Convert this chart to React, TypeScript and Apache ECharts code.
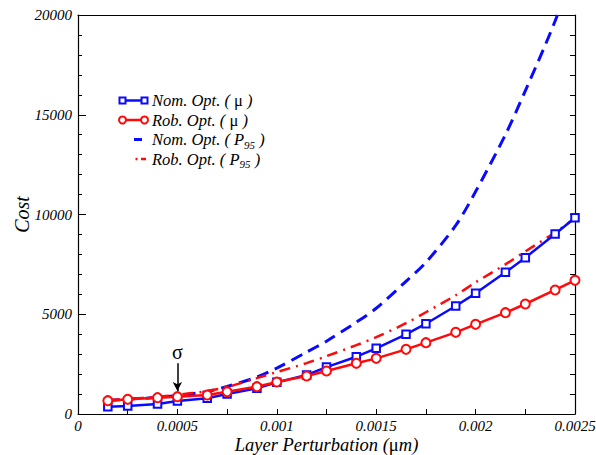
import React, { useEffect, useRef } from "react";
import * as echarts from "echarts";

const xValues = [0.00015, 0.00025, 0.0004, 0.0005, 0.00065, 0.00075, 0.0009, 0.001, 0.00115, 0.00125, 0.0014, 0.0015, 0.00165, 0.00175, 0.0019, 0.002, 0.00215, 0.00225, 0.0024, 0.0025];
const nomMean = [366, 401, 500, 650, 785, 1000, 1285, 1587, 1955, 2350, 2872, 3293, 3995, 4526, 5414, 6048, 7101, 7836, 9023, 9841];
const robMean = [668, 735, 819, 869, 952, 1119, 1370, 1604, 1905, 2155, 2540, 2790, 3241, 3575, 4094, 4495, 5079, 5514, 6216, 6700];
const nomP95 = [680, 740, 830, 930, 1130, 1380, 1850, 2300, 3100, 3650, 4600, 5300, 6650, 7600, 9450, 11150, 14000, 16200, 19700, 22600];
const robP95 = [700, 760, 860, 960, 1150, 1350, 1800, 2100, 2550, 2900, 3450, 3850, 4550, 5100, 5950, 6600, 7500, 8150, 9100, 9820];
const xTicks = ["0", "0.0005", "0.001", "0.0015", "0.002", "0.0025"];
const sigmaX = 0.0005;
const sigmaArrow = [2550, 1150];

const BLUE = "#0a0aff";
const RED = "#ff0a0a";
const SERIF = "'Liberation Serif', serif";

const pairs = (ys: number[]) => xValues.map((x, i) => [x, ys[i]]);

const legendRows = [
  { y: 100.5, label: "{i|Nom. Opt. ( }{m|μ}{i| )}" },
  { y: 120, label: "{i|Rob. Opt. ( }{m|μ}{i| )}" },
  { y: 139.5, label: "{i|Nom. Opt. ( P}{s|95}{i| )}" },
  { y: 159, label: "{i|Rob. Opt. ( P}{s|95}{i| )}" },
];

export default function App() {
  const ref = useRef<HTMLDivElement>(null);
  useEffect(() => {
    if (!ref.current) return;
    const chart = echarts.init(ref.current, null, { renderer: "svg" });
    const rich = {
      i: { fontFamily: SERIF, fontStyle: "italic", fontSize: 16.5, lineHeight: 17, verticalAlign: "top", fill: "#000", color: "#000" },
      m: { fontFamily: SERIF, fontStyle: "normal", fontSize: 16.5, lineHeight: 17, verticalAlign: "top", fill: "#000", color: "#000" },
      s: { fontFamily: SERIF, fontStyle: "italic", fontSize: 11, lineHeight: 11, verticalAlign: "top", padding: [8, 0, 0, 0], fill: "#000", color: "#000" },
    };
    const graphics: any[] = [];
    const x1 = 122.5, x2 = 144.5;
    graphics.push({ type: "line", shape: { x1, y1: legendRows[0].y, x2, y2: legendRows[0].y }, style: { stroke: BLUE, lineWidth: 2.5 } });
    [x1, x2].forEach((x) => graphics.push({ type: "rect", shape: { x: x - 3, y: legendRows[0].y - 3, width: 6, height: 6 }, style: { fill: "#fff", stroke: BLUE, lineWidth: 2 } }));
    graphics.push({ type: "line", shape: { x1, y1: legendRows[1].y, x2, y2: legendRows[1].y }, style: { stroke: RED, lineWidth: 2.5 } });
    [x1, x2].forEach((x) => graphics.push({ type: "circle", shape: { cx: x, cy: legendRows[1].y, r: 3.5 }, style: { fill: "#fff", stroke: RED, lineWidth: 2 } }));
    graphics.push({ type: "line", shape: { x1: 134, y1: legendRows[2].y, x2: 142, y2: legendRows[2].y }, style: { stroke: BLUE, lineWidth: 3 } });
    graphics.push({ type: "line", shape: { x1: 135.5, y1: legendRows[3].y, x2: 137.5, y2: legendRows[3].y }, style: { stroke: RED, lineWidth: 2.5 } });
    graphics.push({ type: "line", shape: { x1: 141, y1: legendRows[3].y, x2: 146, y2: legendRows[3].y }, style: { stroke: RED, lineWidth: 2.5 } });
    legendRows.forEach((r) =>
      graphics.push({ type: "text", x: 152, y: r.y - 8.5, style: { text: r.label, rich, fill: "#000" } })
    );

    const labelStyle = { fontFamily: SERIF, fontStyle: "italic", fontSize: 15, color: "#000" };
    chart.setOption({
      animation: false,
      backgroundColor: "#fff",
      textStyle: { fontFamily: SERIF },
      grid: { left: 78, right: 21, top: 15, bottom: 41, outerBoundsMode: "none", containLabel: false },
      xAxis: [
        {
          type: "value", min: 0, max: 0.0025, interval: 0.0005,
          axisLine: { show: true, onZero: false, lineStyle: { color: "#000", width: 1.2 } },
          axisTick: { show: true, inside: true, length: 5, lineStyle: { color: "#000" } },
          minorTick: { show: true, splitNumber: 2, length: 5, lineStyle: { color: "#000" } },
          splitLine: { show: false },
          axisLabel: { ...labelStyle, margin: 4, lineHeight: 15, formatter: (v: number) => xTicks[Math.round(v / 0.0005)] ?? "" },
          name: "{i|Layer Perturbation (}{m|μ}{i|m)}",
          nameLocation: "middle", nameGap: 22, nameMoveOverlap: false,
          nameTextStyle: {
            rich: {
              i: { fontFamily: SERIF, fontStyle: "italic", fontSize: 18.5, lineHeight: 18, color: "#000" },
              m: { fontFamily: SERIF, fontStyle: "normal", fontSize: 18.5, lineHeight: 18, color: "#000" },
            },
          },
        },
        {
          type: "value", position: "top", min: 0, max: 0.0025,
          axisLine: { show: true, onZero: false, lineStyle: { color: "#000", width: 1.2 } },
          axisTick: { show: false }, axisLabel: { show: false }, splitLine: { show: false },
        },
      ],
      yAxis: [
        {
          type: "value", min: 0, max: 20000, interval: 5000,
          axisLine: { show: true, onZero: false, lineStyle: { color: "#000", width: 1.2 } },
          axisTick: { show: true, inside: true, length: 8, lineStyle: { color: "#000" } },
          minorTick: { show: true, splitNumber: 5, length: 4, lineStyle: { color: "#000" } },
          splitLine: { show: false },
          axisLabel: { ...labelStyle, margin: 6, formatter: (v: number) => String(v) },
          name: "Cost", nameLocation: "middle", nameGap: 46, nameRotate: 90, nameMoveOverlap: false,
          nameTextStyle: { fontFamily: SERIF, fontStyle: "italic", fontSize: 20, color: "#000" },
        },
        {
          type: "value", position: "right", min: 0, max: 20000, interval: 1000,
          axisLine: { show: true, onZero: false, lineStyle: { color: "#000", width: 1.2 } },
          axisTick: { show: true, inside: true, length: 5, lineStyle: { color: "#000" } },
          axisLabel: { show: false }, splitLine: { show: false },
        },
      ],
      series: [
        {
          type: "line", name: "Nom. Opt. (P95)", data: pairs(nomP95), smooth: 0.3, showSymbol: false, symbol: "none",
          lineStyle: { color: BLUE, width: 3, type: [12, 7] }, z: 2,
        },
        {
          type: "line", name: "Rob. Opt. (P95)", data: pairs(robP95), smooth: 0.3, showSymbol: false, symbol: "none",
          lineStyle: { color: RED, width: 2.5, type: [11, 6, 2, 6] }, z: 2,
        },
        {
          type: "line", name: "Nom. Opt. (mu)", data: pairs(nomMean), symbol: "rect", symbolSize: 7.5,
          lineStyle: { color: BLUE, width: 2.5 }, itemStyle: { color: "#fff", borderColor: BLUE, borderWidth: 2 }, z: 3,
          markLine: {
            silent: true, symbol: ["none", "arrow"], symbolSize: [7, 9],
            lineStyle: { color: "#000", width: 1.5, type: "solid" },
            label: { show: true, position: "start", formatter: "σ", fontFamily: SERIF, fontSize: 20, color: "#000", distance: 1 },
            data: [[{ coord: [sigmaX, sigmaArrow[0]] }, { coord: [sigmaX, sigmaArrow[1]] }]],
          },
        },
        {
          type: "line", name: "Rob. Opt. (mu)", data: pairs(robMean), symbol: "circle", symbolSize: 9,
          lineStyle: { color: RED, width: 2.5 }, itemStyle: { color: "#fff", borderColor: RED, borderWidth: 2 }, z: 4,
        },
      ],
      graphic: graphics,
    });
    return () => chart.dispose();
  }, []);
  return <div ref={ref} style={{ width: 596, height: 455, position: "absolute", left: 0, top: 0 }} />;
}
